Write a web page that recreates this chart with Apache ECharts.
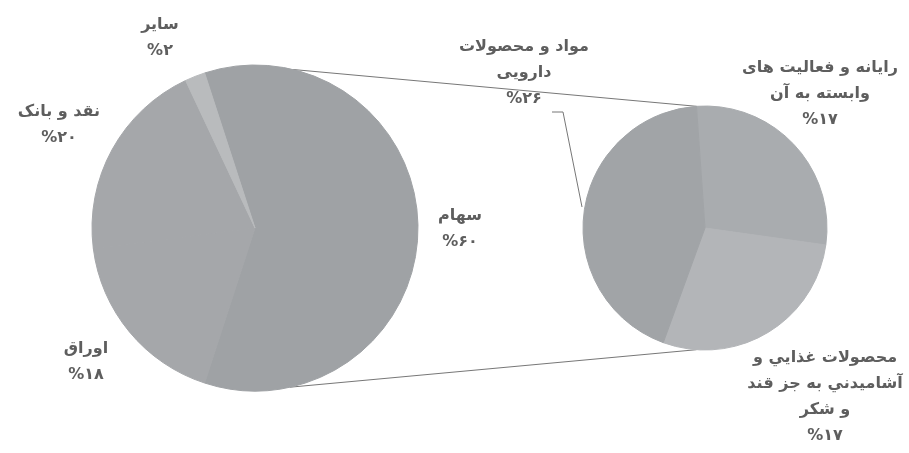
<!DOCTYPE html>
<html>
<head>
<meta charset="utf-8">
<script src="https://cdn.jsdelivr.net/npm/echarts@6/dist/echarts.min.js"></script>
<style>
  html, body { margin: 0; padding: 0; background: #fff; }
  #chart { width: 909px; height: 453px; }
</style>
</head>
<body>
<div id="chart"></div>
<script>
// ترکیب کل دارایی ها (دایره بزرگ)
const mainNames = ['سهام', 'اوراق', 'نقد و بانک', 'سایر'];
const mainValues = [60, 18, 20, 2];

// تفکیک سهام (دایره کوچک)
const subNames = ['رایانه و فعالیت های\nوابسته به آن', 'محصولات غذایي و\nآشاميدني به جز قند\nو شكر', 'مواد و محصولات\nدارویی'];
const subValues = [17, 17, 26];

// layout
const BIG = { cx: 255, cy: 228, r: 163 };
const SMALL = { cx: 705, cy: 228, r: 122 };
const mainColors = ['#9fa2a5', '#a5a7aa', '#a5a7aa', '#b9bbbd'];
const subColors = ['#a9acaf', '#b3b5b8', '#a1a4a7'];
const mainLabelPos = [[460, 229], [86, 362], [59, 125], [160, 38]];
const subLabelPos = [[820, 94], [825, 397], [524, 73]];
const subLeader = [[582, 207], [563, 112], [552, 112]];

function faDigits(n) {
  return String(n).replace(/\d/g, d => '۰۱۲۳۴۵۶۷۸۹'[d]);
}

function labelText(p) {
  return p.name + '\n%' + faDigits(p.value);
}

// point on circle, angle clockwise from top (deg)
function onCircle(c, deg) {
  const a = deg * Math.PI / 180;
  return [c.cx + c.r * Math.sin(a), c.cy - c.r * Math.cos(a)];
}

const chart = echarts.init(document.getElementById('chart'));

const up1 = onCircle(BIG, 13.5), up2 = onCircle(SMALL, -4);
const lo1 = onCircle(BIG, 167.6), lo2 = onCircle(SMALL, 184);

const labelStyle = {
  show: true,
  formatter: labelText,
  fontFamily: 'DejaVu Sans',
  fontSize: 16,
  fontWeight: 'bold',
  lineHeight: 26,
  color: '#5e5e5e',
  align: 'center',
  overflow: 'none',
  alignTo: 'none'
};

// slice fill + same-colour border so neighbours of equal colour show no seam
function slice(c) {
  return { color: c, borderColor: c, borderWidth: 1 };
}

const option = {
  backgroundColor: '#fff',
  animation: false,
  graphic: [
    { type: 'line', z: -1, shape: { x1: up1[0], y1: up1[1], x2: up2[0], y2: up2[1] }, style: { stroke: '#777', lineWidth: 1 } },
    { type: 'line', z: -1, shape: { x1: lo1[0], y1: lo1[1], x2: lo2[0], y2: lo2[1] }, style: { stroke: '#777', lineWidth: 1 } }
  ],
  series: [
    {
      type: 'pie',
      center: [BIG.cx, BIG.cy],
      radius: BIG.r,
      startAngle: 108,
      clockwise: true,
      silent: true,
      label: labelStyle,
      labelLine: { show: false },
      labelLayout: p => ({ x: mainLabelPos[p.dataIndex][0], y: mainLabelPos[p.dataIndex][1], align: 'center', verticalAlign: 'middle' }),
      data: mainNames.map((n, i) => ({ name: n, value: mainValues[i], itemStyle: slice(mainColors[i]) }))
    },
    {
      type: 'pie',
      center: [SMALL.cx, SMALL.cy],
      radius: SMALL.r,
      startAngle: 94,
      clockwise: true,
      silent: true,
      label: labelStyle,
      labelLine: { show: false, lineStyle: { color: '#777', width: 1 } },
      labelLayout: p => {
        const o = { x: subLabelPos[p.dataIndex][0], y: subLabelPos[p.dataIndex][1], align: 'center', verticalAlign: 'middle' };
        if (p.dataIndex === 2) o.labelLinePoints = subLeader;
        return o;
      },
      data: subNames.map((n, i) => ({
        name: n,
        value: subValues[i],
        itemStyle: slice(subColors[i]),
        labelLine: { show: i === 2, lineStyle: { color: '#777', width: 1 } }
      }))
    }
  ]
};

chart.setOption(option);
</script>
</body>
</html>
